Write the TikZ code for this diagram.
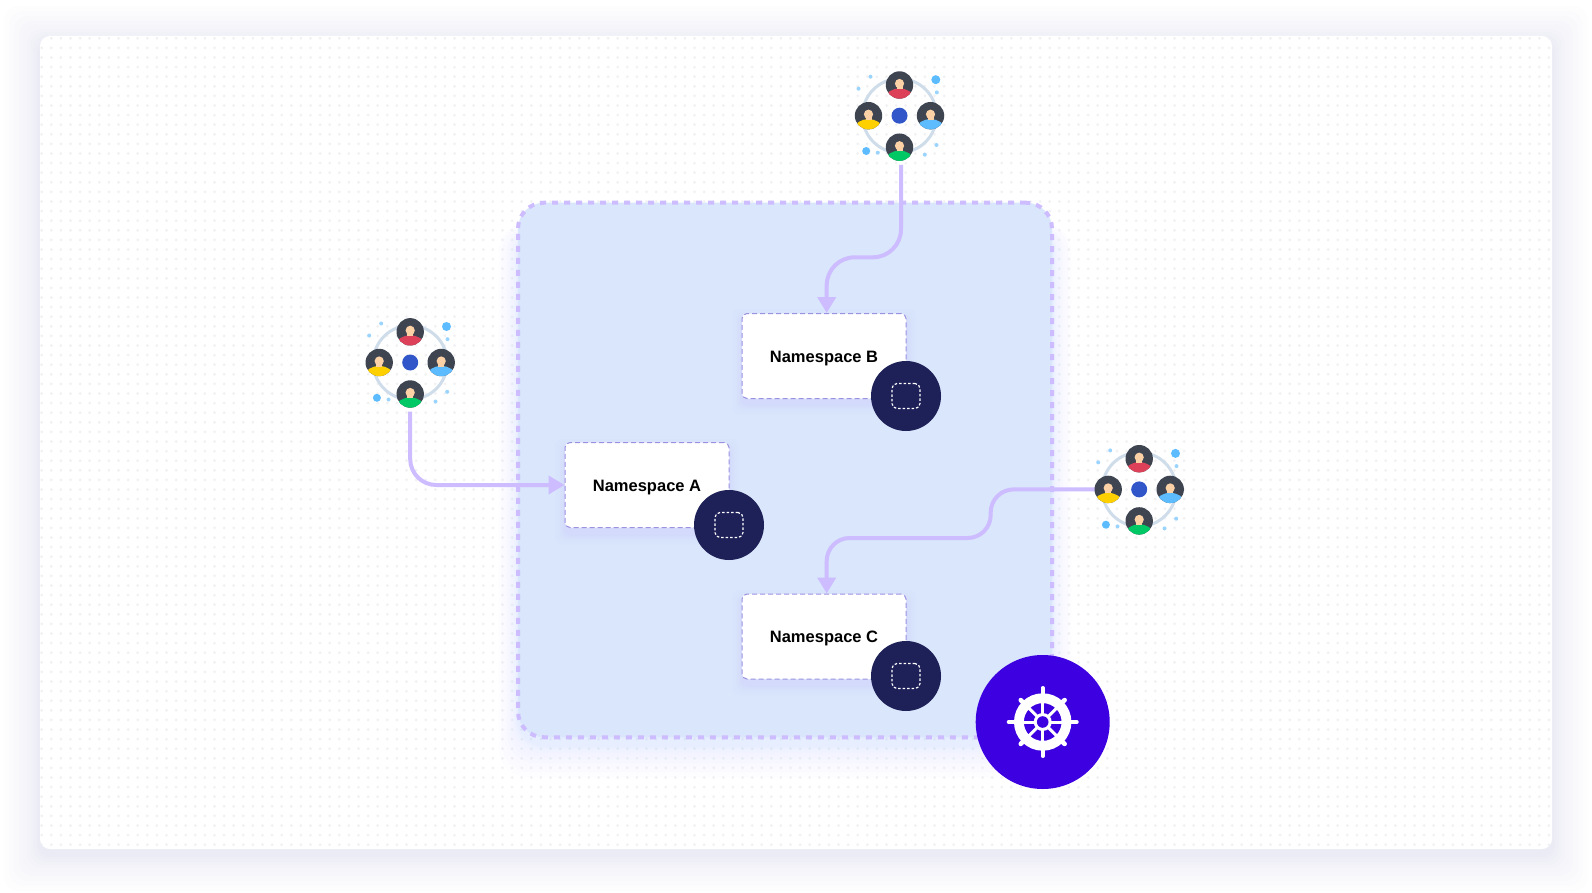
\documentclass[tikz,border=0pt]{standalone}
\usepackage{fontspec}
\usepackage{xcolor}
\setmainfont{Liberation Sans}
\usetikzlibrary{arrows.meta}

\definecolor{cardshade}{HTML}{5F5F8F}
\definecolor{griddot}{HTML}{F1F1F4}
\definecolor{clusterblue}{HTML}{D9E6FB}
\definecolor{clustershade}{HTML}{9CC2FF}
\definecolor{lilac}{HTML}{CDBCFF}
\definecolor{nsedge}{HTML}{9C90E0}
\definecolor{navy}{HTML}{1E2158}
\definecolor{helmblue}{HTML}{3D00E0}
\definecolor{persondark}{HTML}{3E4551}
\definecolor{skin}{HTML}{FDD1A6}
\definecolor{ringgrey}{HTML}{CFDCEA}
\definecolor{hubblue}{HTML}{3056C9}
\definecolor{skyblue}{HTML}{5CBCFF}
\definecolor{palesky}{HTML}{9AD4FF}
\definecolor{shirtred}{HTML}{DD4059}
\definecolor{shirtyellow}{HTML}{FFD000}
\definecolor{shirtgreen}{HTML}{00C864}

\tikzset{
	cluster/.style={draw=lilac, line width=4pt, dash pattern=on 6pt off 6pt, fill=clusterblue,
		rounded corners=26pt, minimum width=534pt, minimum height=534.6pt, inner sep=0pt},
	nsbox/.style={draw=nsedge, line width=1pt, dash pattern=on 5pt off 3pt, fill=white,
		rounded corners=5pt, minimum width=164pt, minimum height=85pt, inner sep=0pt,
		text height=12pt, text depth=0pt, font=\fontsize{16.5}{20}\selectfont\bfseries},
	nsbadge/.style={circle, fill=navy, minimum size=70pt, inner sep=0pt},
	nsmark/.style={draw=white, line width=1.2pt, dash pattern=on 2.5pt off 2pt, rounded corners=5pt,
		minimum width=28pt, minimum height=25pt, inner sep=0pt},
	teamspot/.style={circle, minimum size=98pt, inner sep=0pt},
	helm/.style={circle, fill=helmblue, minimum size=134pt, inner sep=0pt},
	link/.style={draw=lilac, line width=4pt, -{Triangle[width=18pt,length=16pt]}},
	pics/person/.style={code={
		\fill[persondark] (0,0) circle[radius=13.7];
		\begin{scope}
			\clip (0,0) circle[radius=13.7];
			\fill[#1] (0,13) ellipse[x radius=14, y radius=9.5];
		\end{scope}
		\fill[skin] (-3,0) rectangle (3,4);
		\fill[skin] (0,-1.4) ellipse[x radius=4.6, y radius=4.7];
	}},
}

\begin{document}
\begin{tikzpicture}[x=1pt, y=-1pt]
	\useasboundingbox (0,0) rectangle (1592,893);
	\fill[white] (0,0) rectangle (1592,893);

	% card shadow and card
	\foreach \g in {2,4,7,10,13,17,21,26,31,36}
		\fill[cardshade, opacity=.008, rounded corners=14pt] (40-\g,36-\g+6) rectangle (1552+\g,849+\g+6);
	\fill[white, rounded corners=10pt] (40,36) rectangle (1552,849);

	% dotted grid
	\begin{scope}
		\clip[rounded corners=10pt] (40,36) rectangle (1552,849);
		\foreach \r in {0,...,84}
			\draw[griddot, line width=3pt, line cap=round, dash pattern=on 0pt off 9.6pt]
				(41.7,38.3+9.6*\r) -- (1552,38.3+9.6*\r);
	\end{scope}

	% cluster shadow and cluster
	\foreach \g in {1,2,3,4,6,8,11,14,18,22,27,32}
		\fill[clustershade, opacity=.02, rounded corners=28pt] (518-.6*\g,223) rectangle (1052+.6*\g,737+8+\g);
	\node[cluster] (cluster) at (785,470) {};

	% namespace shadows
	\foreach \nx/\ny in {742/313, 565/443, 742/594}
		\foreach \g in {1,2,3,5,7,10}
			\fill[lilac, opacity=.035, rounded corners=7pt] (\nx-\g,\ny+6-\g) rectangle (\nx+164+\g,\ny+85+6+\g);

	% namespaces
	\node[nsbox] (nsb) at (824,356) {Namespace B};
	\node[nsbox] (nsa) at (647,485) {Namespace A};
	\node[nsbox] (nsc) at (824,636.5) {Namespace C};

	% teams
	\node[teamspot] (teamb) at (899.5,115.7) {};
	\node[teamspot] (teama) at (410.2,362.5) {};
	\node[teamspot] (teamc) at (1139.2,489.4) {};

	% connecting lines
	\coordinate (bendb) at (826.7,257.3);
	\coordinate (bendc) at (990.7,538);
	\draw[link] ([xshift=1.5pt]teamb.south) [rounded corners=28pt] |- (bendb) [rounded corners=16pt] -- ([xshift=2.7pt]nsb.north);
	\draw[link, rounded corners=26pt] (teama.south) |- (nsa.west);
	\draw[link, rounded corners=23pt] ([xshift=5pt]teamc.west) -| (bendc) -| ([xshift=2.7pt]nsc.north);

	% badges
	\node[nsbadge] (badgeb) at (906,396) {};
	\node[nsbadge] (badgea) at (729,525) {};
	\node[nsbadge] (badgec) at (906,676) {};
	\node[nsmark] (markb) at (badgeb) {};
	\node[nsmark] (marka) at (badgea) {};
	\node[nsmark] (markc) at (badgec) {};

	% team pictures
	\foreach \t in {teamb,teama,teamc} {
		\begin{scope}[shift={(\t)}]
			\draw[ringgrey, line width=3pt] (0,0) circle[radius=37];
			\fill[hubblue] (0,0) circle[radius=8];
			\foreach \dx/\dy/\dr in {36.3/-36/4.5, -33.3/35.3/4}
				\fill[skyblue] (\dx,\dy) circle[radius=\dr];
			\foreach \dx/\dy in {37.3/-23.3, -29/-39, -41/-27, -21.7/37, 25.3/39, 37/29.3}
				\fill[palesky] (\dx,\dy) circle[radius=2];
			\pic at (0,-30.7) {person=shirtred};
			\pic at (-31,0) {person=shirtyellow};
			\pic at (31,0) {person=skyblue};
			\pic at (0,31.5) {person=shirtgreen};
		\end{scope}
	}

	% helm
	\node[helm] (helmnode) at (1042.7,722) {};
	\begin{scope}[shift={(helmnode)}]
		\foreach \a in {0,90,180,270}
			\draw[white, line width=3.6pt, line cap=round] (\a:24) -- (\a:34.2);
		\foreach \a in {45,135,225,315}
			\draw[white, line width=4.6pt, line cap=round] (\a:24) -- (\a:31);
		\draw[white, line width=9.8pt] (0,0) circle[radius=23.8];
		\foreach \a in {0,45,...,315}
			\draw[white, line width=3pt] (0,0) -- (\a:20);
		\fill[white] (0,0) circle[radius=9];
		\fill[helmblue] (0,0) circle[radius=5.8];
	\end{scope}
\end{tikzpicture}
\end{document}
